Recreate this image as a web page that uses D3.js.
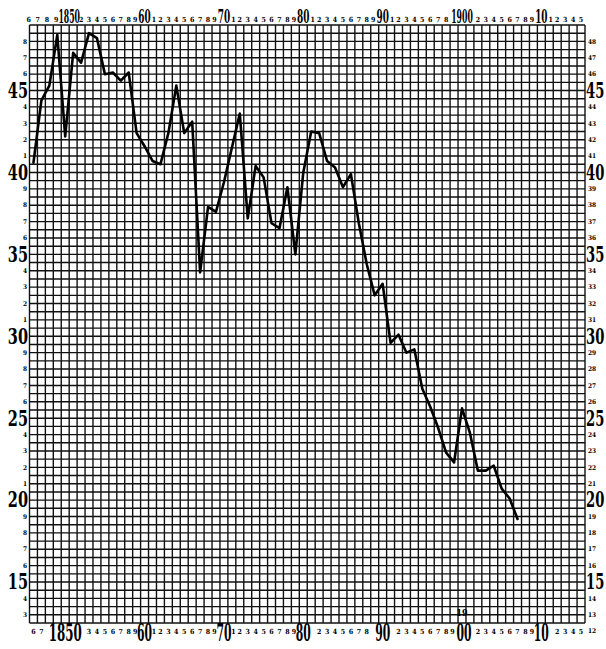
<!DOCTYPE html>
<html>
<head>
<meta charset="utf-8">
<script src="https://cdn.jsdelivr.net/npm/d3@7"></script>
<style>
  body { margin: 0; background: #fff; }
</style>
</head>
<body>
<div id="chart"></div>
<script>
// yearly values
const years = [1846, 1847, 1848, 1849, 1850, 1851, 1852, 1853, 1854, 1855,
    1856, 1857, 1858, 1859, 1860, 1861, 1862, 1863, 1864, 1865,
    1866, 1867, 1868, 1869, 1870, 1871, 1872, 1873, 1874, 1875,
    1876, 1877, 1878, 1879, 1880, 1881, 1882, 1883, 1884, 1885,
    1886, 1887, 1888, 1889, 1890, 1891, 1892, 1893, 1894, 1895,
    1896, 1897, 1898, 1899, 1900, 1901, 1902, 1903, 1904, 1905,
    1906, 1907];
const values = [40.6, 44.4, 45.3, 48.4, 42.2, 47.3, 46.7, 48.5, 48.2, 46.0,
    46.1, 45.6, 46.1, 42.4, 41.6, 40.7, 40.5, 42.4, 45.3, 42.4,
    43.1, 33.9, 37.9, 37.6, 39.4, 41.5, 43.6, 37.2, 40.4, 39.7,
    36.9, 36.6, 39.1, 35.0, 40.0, 42.5, 42.4, 40.7, 40.3, 39.1,
    39.9, 36.9, 34.4, 32.5, 33.2, 29.6, 30.1, 29.0, 29.2, 26.8,
    25.7, 24.4, 22.9, 22.3, 25.6, 24.1, 21.8, 21.8, 22.1, 20.7,
    20.1, 18.85];

// axis labels
const firstYear = 1846, lastYear = 1915;
const decadeYears = [1850, 1860, 1870, 1880, 1890, 1900, 1910];
const decadeTop = ["1850", "60", "70", "80", "90", "1900", "10"];
const decadeBottom = ["1850", "60", "70", "80", "90", "00", "10"];
const topSkip = [1851, 1899, 1901];
const bottomSkip = [1848, 1849, 1851, 1852, 1881, 1889, 1891, 1901, 1911];
const bigValues = [15, 20, 25, 30, 35, 40, 45];
const minValue = 12.5, maxValue = 49;

const width = 606, height = 649;
const grid = { left: 29.5, right: 585, top: 25, bottom: 623 };
const ink = "#111";
const labelFont = "'DejaVu Serif Condensed', 'DejaVu Serif', serif";

let svg = d3.select("#chart")
    .append("svg")
    .attr("width", width)
    .attr("height", height);

let allYears = d3.range(firstYear, lastYear + 1);

let x = d3.scaleBand()
    .domain(allYears)
    .range([grid.left, grid.right]);

let y = d3.scaleLinear()
    .domain([minValue, maxValue])
    .range([grid.bottom, grid.top]);

let cx = function (yr) { return x(yr) + x.bandwidth() / 2; };

// nudge the digits next to a decade label away from it
let nudge = function (yr) {
    if (yr % 10 == 9) return -1.5;
    if (yr % 10 == 1) return 1.5;
    return 0;
};

// squeezed hand-lettered numbers: scale glyphs horizontally
function bigLabel(g, px, py, sx, size, anchor, txt) {
    g.append("text")
        .attr("transform", `translate(${px}, ${py}) scale(${sx}, 1)`)
        .style("text-anchor", anchor)
        .style("font", `bold ${size}px ${labelFont}`)
        .text(txt);
}

// graph paper: one column per year, one row per half unit
let gridRef = svg.append("g")
    .attr("stroke", ink)
    .attr("stroke-width", 1.4);

let colEdges = allYears.map(function (d) { return x(d); }).concat([grid.right]);
gridRef.selectAll("line.v").data(colEdges)
    .enter().append("line")
    .attr("class", "v")
    .attr("x1", function (d) { return d; })
    .attr("x2", function (d) { return d; })
    .attr("y1", grid.top)
    .attr("y2", grid.bottom);

let rowValues = d3.range(minValue, maxValue + 0.01, 0.5);
gridRef.selectAll("line.h").data(rowValues)
    .enter().append("line")
    .attr("class", "h")
    .attr("x1", grid.left)
    .attr("x2", grid.right)
    .attr("y1", function (d) { return y(d); })
    .attr("y2", function (d) { return y(d); });

// the curve
let series = years.map(function (d, i) { return { year: d, value: values[i] }; });
svg.append("path")
    .datum(series)
    .attr("fill", "none")
    .attr("stroke", "#000")
    .attr("stroke-width", 2.6)
    .attr("stroke-linejoin", "round")
    .attr("stroke-linecap", "round")
    .attr("d", d3.line()
        .x(function (d) { return cx(d.year); })
        .y(function (d) { return y(d.value); }));

// small year digits, top and bottom
let plainYears = allYears.filter(function (d) { return decadeYears.indexOf(d) < 0; });

svg.append("g").selectAll("text")
    .data(plainYears.filter(function (d) { return topSkip.indexOf(d) < 0; }))
    .enter().append("text")
    .attr("x", function (d) { return cx(d) + (d < 1850 ? -(1850 - d) * 1.2 : nudge(d)); })
    .attr("y", 22)
    .style("text-anchor", "middle")
    .style("font", "bold 7px " + labelFont)
    .text(function (d) { return d % 10; });

svg.append("g").selectAll("text")
    .data(plainYears.filter(function (d) { return bottomSkip.indexOf(d) < 0; }))
    .enter().append("text")
    .attr("x", function (d) { return cx(d) + nudge(d); })
    .attr("y", 634)
    .style("text-anchor", "middle")
    .style("font", "bold 7px " + labelFont)
    .text(function (d) { return d % 10; });

// decade labels
let topRef = svg.append("g");
decadeYears.forEach(function (d, i) {
    let wide = decadeTop[i].length > 2;
    bigLabel(topRef, cx(d) + (i == 0 ? 4 : 0), 23, wide ? 0.48 : 0.55, 18, "middle", decadeTop[i]);
});

let bottomRef = svg.append("g");
decadeYears.forEach(function (d, i) {
    let wide = decadeBottom[i].length > 2;
    bigLabel(bottomRef, cx(d) + (d == 1900 ? 2 : 0), 641, wide ? 0.55 : 0.5, 24, "middle", decadeBottom[i]);
});

// the "19" written above the bottom 00
svg.append("text")
    .attr("x", cx(1900))
    .attr("y", 616)
    .style("text-anchor", "middle")
    .style("font", "bold 9px " + labelFont)
    .text("19");

// value labels, left and right
let smallValues = d3.range(13, 49).filter(function (d) { return bigValues.indexOf(d) < 0; });

svg.append("g").selectAll("text")
    .data(smallValues)
    .enter().append("text")
    .attr("x", 27)
    .attr("y", function (d) { return y(d) + 2.2; })
    .style("text-anchor", "end")
    .style("font", "bold 6.5px " + labelFont)
    .text(function (d) { return d % 10; });

svg.append("g").selectAll("text")
    .data([12].concat(smallValues))
    .enter().append("text")
    .attr("x", 588)
    .attr("y", function (d) { return y(d) + 2.2; })
    .style("text-anchor", "start")
    .style("font", "bold 6.5px " + labelFont)
    .text(function (d) { return d; });

let leftRef = svg.append("g");
let rightRef = svg.append("g");
bigValues.forEach(function (d) {
    bigLabel(leftRef, 28, y(d) + 7.3, 0.75, 21.5, "end", d);
    bigLabel(rightRef, 586, y(d) + 7.3, 0.68, 21.5, "start", d);
});
</script>
</body>
</html>
